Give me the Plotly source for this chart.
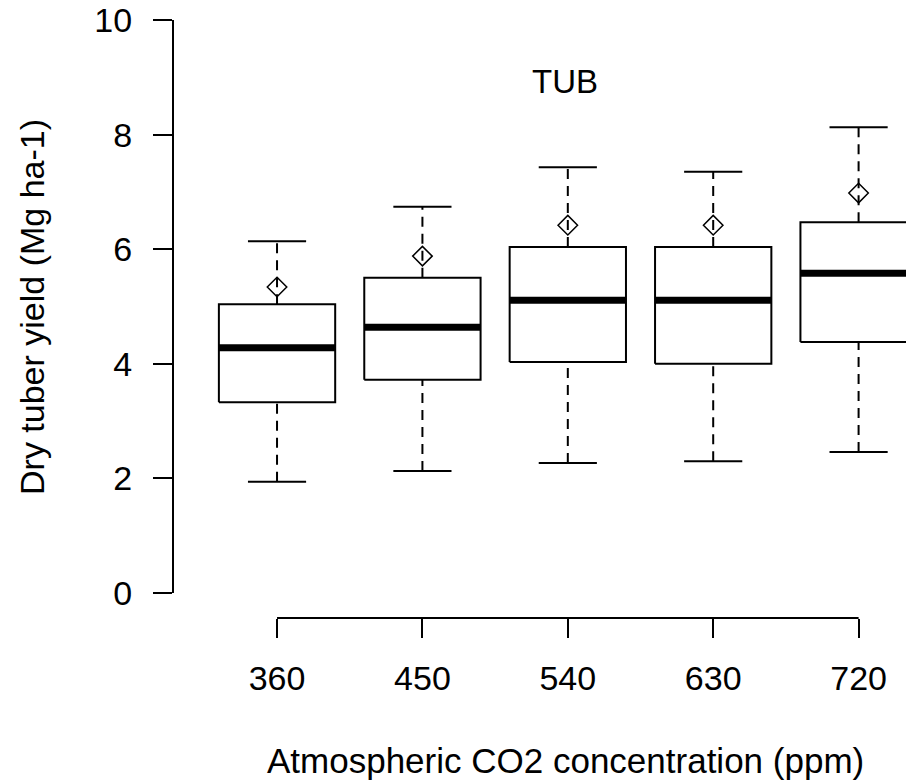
import plotly.graph_objects as go

# ---- data ----
co2 = [360, 450, 540, 630, 720]
whisker_low = [1.94, 2.13, 2.27, 2.30, 2.46]
q1 = [3.33, 3.72, 4.03, 4.00, 4.38]
median = [4.28, 4.64, 5.11, 5.11, 5.58]
q3 = [5.04, 5.50, 6.04, 6.04, 6.47]
whisker_high = [6.14, 6.74, 7.43, 7.35, 8.13]
mean = [5.34, 5.88, 6.42, 6.42, 6.98]
x_ticklabels = ["360", "450", "540", "630", "720"]
y_ticks = [0, 2, 4, 6, 8, 10]

title_text = "TUB"
x_title = "Atmospheric CO2 concentration (ppm)"
y_title = "Dry tuber yield (Mg ha-1)"

FONT = "Liberation Sans, Arial, Helvetica, sans-serif"
BOX_HALF = 36      # half box width in x units (0.8 * 90 / 2)
CAP_HALF = 18      # half staple width

# ---- build geometry from the data ----
wx, wy = [], []
cx, cy = [], []
bx, by = [], []
mx, my = [], []
for c, lo, a, m, b, hi in zip(co2, whisker_low, q1, median, q3, whisker_high):
    wx += [c, c, None, c, c, None]
    wy += [lo, a, None, b, hi, None]
    cx += [c - CAP_HALF, c + CAP_HALF, None, c - CAP_HALF, c + CAP_HALF, None]
    cy += [lo, lo, None, hi, hi, None]
    bx += [c - BOX_HALF, c + BOX_HALF, c + BOX_HALF, c - BOX_HALF, c - BOX_HALF, None]
    by += [a, a, b, b, a, None]
    mx += [c - BOX_HALF, c + BOX_HALF, None]
    my += [m, m, None]

fig = go.Figure()
fig.add_trace(go.Scatter(x=wx, y=wy, mode="lines", line=dict(color="black", width=2, dash="10px,7px"),
                         hoverinfo="skip", showlegend=False))
fig.add_trace(go.Scatter(x=cx, y=cy, mode="lines", line=dict(color="black", width=2),
                         hoverinfo="skip", showlegend=False))
fig.add_trace(go.Scatter(x=bx, y=by, mode="lines", line=dict(color="black", width=2),
                         hoverinfo="skip", showlegend=False))
fig.add_trace(go.Scatter(x=mx, y=my, mode="lines", line=dict(color="black", width=7),
                         hoverinfo="skip", showlegend=False))
fig.add_trace(go.Scatter(x=co2, y=mean, mode="markers",
                         marker=dict(symbol="diamond-open", size=15, color="black", line=dict(width=1.5, color="black")),
                         showlegend=False))

# axis lines like R base graphics (only spanning the ticks)
fig.add_shape(type="line", xref="x", yref="paper", x0=co2[0], x1=co2[-1], y0=0, y1=0,
              line=dict(color="black", width=2))
fig.add_shape(type="line", xref="paper", yref="y", x0=0, x1=0, y0=y_ticks[0], y1=y_ticks[-1],
              line=dict(color="black", width=2))

fig.update_layout(
    width=914, height=781,
    margin=dict(l=165, r=8, t=2, b=171, autoexpand=False),
    paper_bgcolor="white", plot_bgcolor="white",
    font=dict(family=FONT, size=34, color="black"),
    xaxis=dict(range=[295.6, 754.3], tickvals=co2, ticktext=x_ticklabels, automargin=False,
               ticks="outside", ticklen=19, tickwidth=2, tickcolor="black",
               showgrid=False, zeroline=False, showline=False, ticklabeloverflow="allow",
               tickfont=dict(family=FONT, size=34, color="black"), ticklabelstandoff=11),
    yaxis=dict(range=[-0.436, 10.175], tickvals=y_ticks, automargin=False,
               ticks="outside", ticklen=19, tickwidth=2, tickcolor="black",
               showgrid=False, zeroline=False, showline=False, ticklabeloverflow="allow",
               tickfont=dict(family=FONT, size=34, color="black"), ticklabelstandoff=14),
    annotations=[
        dict(text=x_title, xref="paper", yref="paper", x=(565 - 173) / 741, y=(618 - 760) / 608,
             xanchor="center", yanchor="middle", showarrow=False,
             font=dict(family=FONT, size=35, color="black")),
        dict(text=y_title, xref="paper", yref="paper", x=(32 - 173) / 741, y=(618 - 307) / 608,
             xanchor="center", yanchor="middle", textangle=-90, showarrow=False,
             font=dict(family=FONT, size=34, color="black")),
        dict(text=title_text, xref="paper", yref="paper", x=(564.5 - 173) / 741, y=(618 - 81) / 608,
             xanchor="center", yanchor="middle", showarrow=False,
             font=dict(family=FONT, size=33, color="black")),
    ],
)

fig.write_html("out.html")
